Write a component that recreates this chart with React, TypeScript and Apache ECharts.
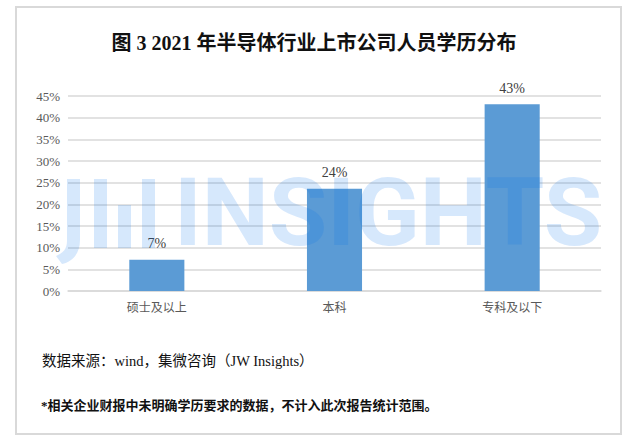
import React, { useEffect, useRef } from "react";
import * as echarts from "echarts";

const categories = ["硕士及以上", "本科", "专科及以下"];
const shares = [7.2, 23.6, 43.1];
const yTicks = { min: 0, max: 45, interval: 5 };
const titleText = "图 3 2021 年半导体行业上市公司人员学历分布";
const sourceText = "数据来源：wind，集微咨询（JW Insights）";
const noteText = "*相关企业财报中未明确学历要求的数据，不计入此次报告统计范围。";

const SERIF = "'Liberation Serif', 'Noto Sans CJK SC', serif";
const WM = "rgba(0,110,235,0.16)";

let registered = false;
function registerJ() {
  if (registered) return;
  registered = true;
  const d = "M67 179 L80 179 L80 240 C80 254 72 262 62 264 L56 256 C63 253 67 249 67 241 Z";
  echarts.graphic.registerShape("logoJ", echarts.graphic.extendPath(d, {}) as any);
}

export default function App() {
  const ref = useRef<HTMLDivElement>(null);
  useEffect(() => {
    if (!ref.current) return;
    registerJ();
    const chart = echarts.init(ref.current, null, { renderer: "svg" });
    chart.setOption({
      animation: false,
      backgroundColor: "#ffffff",
      grid: { left: 68, right: 39, top: 96, bottom: 150, outerBoundsMode: "none" } as any,
      xAxis: {
        type: "category",
        data: categories,
        axisLine: { lineStyle: { color: "#d9d9d9", width: 1.5 } },
        axisTick: { show: false },
        axisLabel: { color: "#595959", fontSize: 12, fontFamily: SERIF, margin: 11 },
      },
      yAxis: {
        type: "value",
        min: yTicks.min,
        max: yTicks.max,
        interval: yTicks.interval,
        axisLine: { show: false },
        axisTick: { show: false },
        axisLabel: { color: "#595959", fontSize: 13, fontFamily: SERIF, margin: 8, formatter: "{value}%" },
        splitLine: { lineStyle: { color: "#d9d9d9", width: 1.5 } },
      },
      series: [
        {
          type: "bar",
          data: shares,
          barWidth: "31%",
          itemStyle: { color: "#5b9bd5" },
          label: {
            show: true,
            position: "top",
            distance: 9,
            color: "#404040",
            fontSize: 14,
            fontFamily: SERIF,
            formatter: (p: any) => Math.round(p.value) + "%",
          },
        },
      ],
      graphic: [
        {
          type: "rect",
          silent: true,
          z: 0,
          shape: { x: 16, y: 7, width: 605, height: 427 },
          style: { fill: "none", stroke: "#d9d9d9", lineWidth: 2 },
        },
        {
          type: "text",
          x: 314,
          y: 43,
          style: {
            text: titleText,
            fontSize: 20,
            fontWeight: "bold",
            fontFamily: SERIF,
            fill: "#111",
            align: "center",
            verticalAlign: "middle",
          },
        },
        {
          type: "text",
          x: 42,
          y: 361,
          style: { text: sourceText, fontSize: 14.5, fontFamily: SERIF, fill: "#111", align: "left", verticalAlign: "middle" },
        },
        {
          type: "text",
          x: 41,
          y: 405,
          style: {
            text: noteText,
            fontSize: 13,
            fontWeight: "bold",
            fontFamily: SERIF,
            fill: "#111",
            align: "left",
            verticalAlign: "middle",
          },
        },
        {
          type: "group",
          silent: true,
          z: 100,
          children: [
            { type: "logoJ", x: 0, y: 0, z: 100, style: { fill: WM } },
            { type: "rect", z: 100, shape: { x: 94, y: 179, width: 13, height: 69 }, style: { fill: WM } },
            { type: "rect", z: 100, shape: { x: 118, y: 205, width: 13, height: 43 }, style: { fill: WM } },
            { type: "rect", z: 100, shape: { x: 142, y: 179, width: 13, height: 69 }, style: { fill: WM } },
            {
              type: "text",
              z: 100,
              x: 174,
              y: 165,
              style: {
                text: "INSIGHTS",
                fontSize: 95,
                fontWeight: "bold",
                fontFamily: "Roboto, 'Noto Sans', sans-serif",
                fill: WM,
                align: "left",
                verticalAlign: "top",
              },
            },
          ],
        },
      ],
    });
    return () => chart.dispose();
  }, []);
  return <div ref={ref} style={{ position: "fixed", left: 0, top: 0, width: 640, height: 441 }} />;
}
